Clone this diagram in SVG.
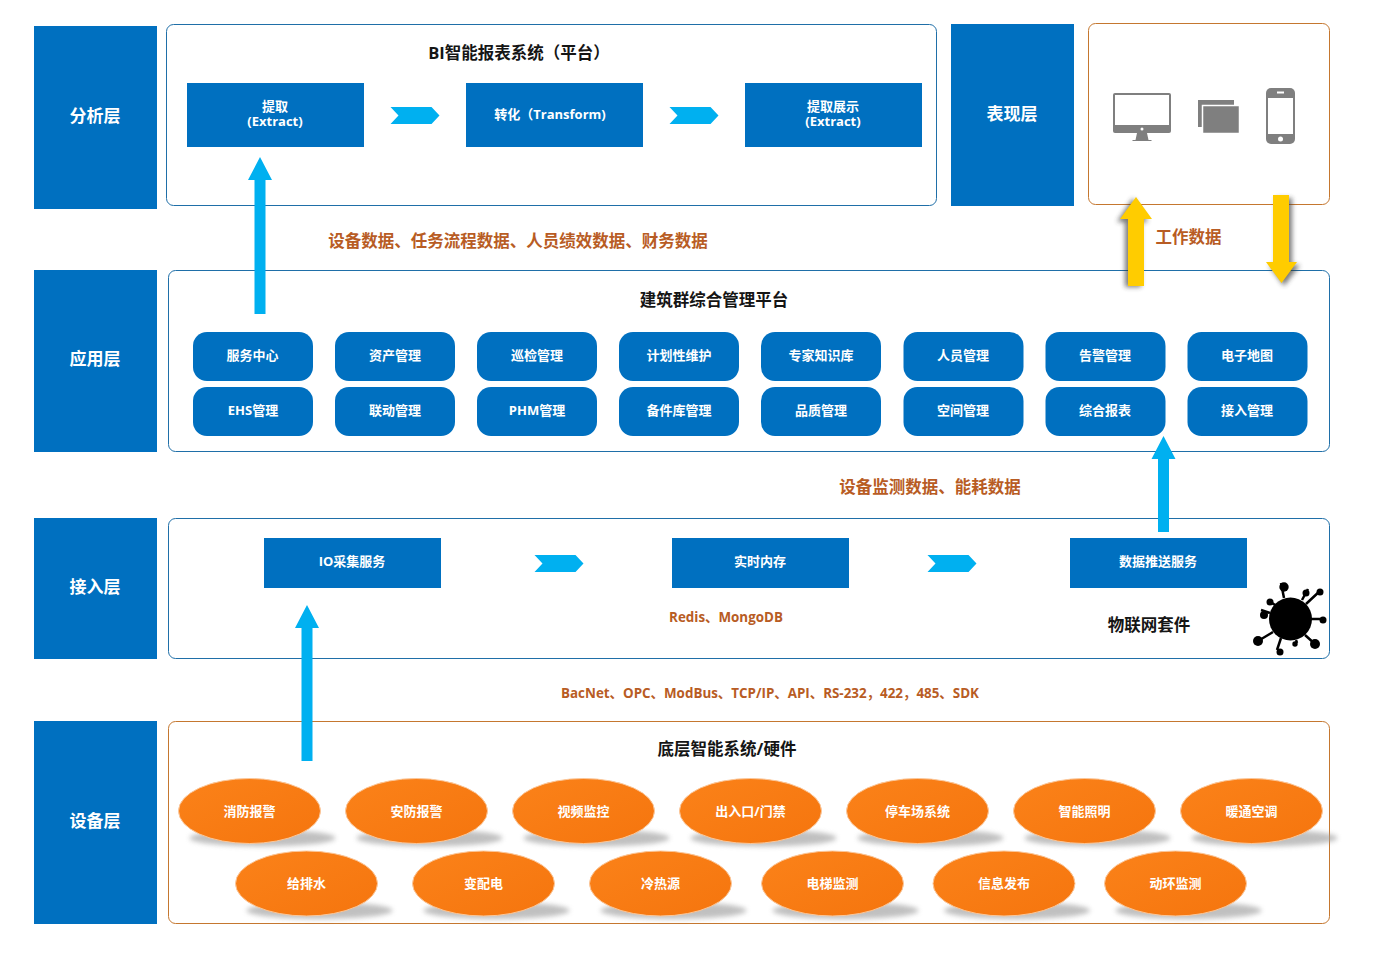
<svg xmlns="http://www.w3.org/2000/svg" width="1374" height="956" viewBox="0 0 1374 956">
<style>
text{font-family:"Open Sans","Noto Sans CJK SC","Noto Sans",sans-serif;font-weight:700;text-anchor:middle}
.layer{fill:#0070c0}
.lt{fill:#fff;font-size:17px}
.panel{fill:#fff;stroke:#1f6fa8;stroke-width:1}
.panelo{fill:#fff;stroke:#c5772f;stroke-width:1}
.box{fill:#0070c0}
.bt{fill:#fff;font-size:13px}
.title{fill:#151515;font-size:16.5px}
.note{fill:#b85c24;font-size:16.5px}
.note2{fill:#b85c24;font-size:13.4px}
.oval{fill:url(#og);stroke:#fbc79a;stroke-width:1}
.shad{fill:#9a9a9a;opacity:.62;filter:url(#b3)}
.blue{fill:#00b0f0}
.yel{fill:#ffcc00}
.ysh{fill:#333;opacity:.65;filter:url(#b3)}
.ic{fill:#7f7f7f}
.vs{stroke:#000;stroke-width:2.5;fill:none}
</style>
<defs>
<filter id="b3" x="-30%" y="-30%" width="160%" height="160%"><feGaussianBlur stdDeviation="2.5"/></filter>
<linearGradient id="og" x1="0" y1="0" x2="1" y2="1"><stop offset="0" stop-color="#fb8219"/><stop offset="1" stop-color="#f5750e"/></linearGradient>
</defs>
<rect width="1374" height="956" fill="#fff"/>
<g id="layer-analysis"><rect class="layer" x="34" y="26" width="123" height="183"/><text class="lt" x="95" y="122">分析层</text></g>
<g id="layer-app"><rect class="layer" x="34" y="270" width="123" height="182"/><text class="lt" x="95" y="365">应用层</text></g>
<g id="layer-access"><rect class="layer" x="34" y="518" width="123" height="141"/><text class="lt" x="95" y="593">接入层</text></g>
<g id="layer-device"><rect class="layer" x="34" y="721" width="123" height="203"/><text class="lt" x="95" y="827">设备层</text></g>
<g id="layer-present"><rect class="layer" x="951" y="24" width="123" height="182"/><text class="lt" x="1012" y="120">表现层</text></g>

<g id="panel-bi"><rect class="panel" x="166.500" y="24.500" width="770" height="181" rx="7"/><text class="title" x="519" y="58.500">BI智能报表系统（平台）</text></g>
<g id="panel-present"><rect class="panelo" x="1088.500" y="23.500" width="241" height="181" rx="7"/>
<path class="ic" d="M1115 93h54a2 2 0 0 1 2 2v36a2 2 0 0 1-2 2h-54a2 2 0 0 1-2-2V95a2 2 0 0 1 2-2z"/><rect x="1115" y="95" width="54" height="30" fill="#fff"/><circle cx="1142" cy="129" r="1.500" fill="#fff"/><path class="ic" d="M1137 133h10l1.500 7h3v1h-19v-1h3z"/>
<rect class="ic" x="1198" y="100" width="36" height="27"/><rect class="ic" x="1202.500" y="105.500" width="37" height="28" stroke="#fff" stroke-width="1.500"/>
<rect class="ic" x="1266" y="88" width="29" height="56" rx="5"/><rect x="1268" y="98" width="25" height="36" fill="#fff"/><rect x="1277" y="91.500" width="7" height="2" fill="#fff"/><circle cx="1280.500" cy="139" r="2.500" fill="#fff"/>
</g>
<g id="panel-platform"><rect class="panel" x="168.500" y="270.500" width="1161" height="181" rx="7"/><text class="title" x="714" y="305.500">建筑群综合管理平台</text></g>
<g id="panel-iot"><rect class="panel" x="168.500" y="518.500" width="1161" height="140" rx="7"/><text class="title" x="1149" y="630.500">物联网套件</text><text class="note2" x="726" y="622">Redis、MongoDB</text>
<circle cx="1290.500" cy="619" r="21.500"/><g class="vs"><path d="M1284 598l-3-15M1302 600l6-11M1306 604l15-14M1310 619h13M1305 635l10 9M1296 640l1 3M1281 638l-4 12M1273 632l-15 9M1270 613l-9-3M1275 605l-7-5"/></g>
<g><circle cx="1284" cy="587" r="4.700"/><circle cx="1306" cy="593" r="3.500"/><circle cx="1320" cy="592" r="3.500"/><circle cx="1323" cy="620" r="3.500"/><circle cx="1315" cy="644" r="5"/><circle cx="1295" cy="644" r="2.700"/><circle cx="1280" cy="652" r="3.500"/><circle cx="1258" cy="641" r="5"/><circle cx="1264" cy="615" r="4"/><circle cx="1270" cy="602" r="3.500"/></g>
</g>
<g id="panel-device"><rect class="panelo" x="168.500" y="721.500" width="1161" height="202" rx="7"/><text class="title" x="727" y="754.500">底层智能系统/硬件</text></g>

<g id="n-extract1"><rect class="box" x="187" y="83" width="177" height="64"/><text class="bt" x="275" y="110.500">提取<tspan x="275" dy="15.500">(Extract)</tspan></text></g>
<g id="n-transform"><rect class="box" x="466" y="83" width="177" height="64"/><text class="bt" x="550" y="119">转化（Transform)</text></g>
<g id="n-extract2"><rect class="box" x="745" y="83" width="177" height="64"/><text class="bt" x="833" y="110.500">提取展示<tspan x="833" dy="15.500">(Extract)</tspan></text></g>

<defs><rect id="pill" width="120" height="49" rx="14" class="box"/></defs>
<g id="a1"><use href="#pill" x="193" y="332"/><text class="bt" x="252.500" y="359.500">服务中心</text></g>
<g id="a2"><use href="#pill" x="335" y="332"/><text class="bt" x="395" y="359.500">资产管理</text></g>
<g id="a3"><use href="#pill" x="477" y="332"/><text class="bt" x="537" y="359.500">巡检管理</text></g>
<g id="a4"><use href="#pill" x="619" y="332"/><text class="bt" x="679" y="359.500">计划性维护</text></g>
<g id="a5"><use href="#pill" x="761" y="332"/><text class="bt" x="821" y="359.500">专家知识库</text></g>
<g id="a6"><use href="#pill" x="903.500" y="332"/><text class="bt" x="963" y="359.500">人员管理</text></g>
<g id="a7"><use href="#pill" x="1045.500" y="332"/><text class="bt" x="1105" y="359.500">告警管理</text></g>
<g id="a8"><use href="#pill" x="1187.500" y="332"/><text class="bt" x="1247" y="359.500">电子地图</text></g>
<g id="b1"><use href="#pill" x="193" y="387"/><text class="bt" x="253" y="414.500">EHS管理</text></g>
<g id="b2"><use href="#pill" x="335" y="387"/><text class="bt" x="395" y="414.500">联动管理</text></g>
<g id="b3n"><use href="#pill" x="477" y="387"/><text class="bt" x="537" y="414.500">PHM管理</text></g>
<g id="b4"><use href="#pill" x="619" y="387"/><text class="bt" x="679" y="414.500">备件库管理</text></g>
<g id="b5"><use href="#pill" x="761" y="387"/><text class="bt" x="821" y="414.500">品质管理</text></g>
<g id="b6"><use href="#pill" x="903.500" y="387"/><text class="bt" x="963" y="414.500">空间管理</text></g>
<g id="b7"><use href="#pill" x="1045.500" y="387"/><text class="bt" x="1105" y="414.500">综合报表</text></g>
<g id="b8"><use href="#pill" x="1187.500" y="387"/><text class="bt" x="1247" y="414.500">接入管理</text></g>

<g id="n-io"><rect class="box" x="264" y="538" width="177" height="50"/><text class="bt" x="352" y="565.500">IO采集服务</text></g>
<g id="n-mem"><rect class="box" x="672" y="538" width="177" height="50"/><text class="bt" x="760" y="565.500">实时内存</text></g>
<g id="n-push"><rect class="box" x="1070" y="538" width="177" height="50"/><text class="bt" x="1158" y="565.500">数据推送服务</text></g>

<defs><g id="ov"><ellipse class="shad" cx="13" cy="27" rx="73" ry="8.500"/><ellipse class="oval" cx="0" cy="0" rx="71" ry="32.500"/></g></defs>
<g id="o1"><use href="#ov" x="249.500" y="811"/><text class="bt" x="249.500" y="815.500">消防报警</text></g>
<g id="o2"><use href="#ov" x="416.500" y="811"/><text class="bt" x="416.500" y="815.500">安防报警</text></g>
<g id="o3"><use href="#ov" x="583.500" y="811"/><text class="bt" x="583.500" y="815.500">视频监控</text></g>
<g id="o4"><use href="#ov" x="750.500" y="811"/><text class="bt" x="750.500" y="815.500">出入口/门禁</text></g>
<g id="o5"><use href="#ov" x="917.500" y="811"/><text class="bt" x="917.500" y="815.500">停车场系统</text></g>
<g id="o6"><use href="#ov" x="1084.500" y="811"/><text class="bt" x="1084.500" y="815.500">智能照明</text></g>
<g id="o7"><use href="#ov" x="1251.500" y="811"/><text class="bt" x="1251.500" y="815.500">暖通空调</text></g>
<g id="o8"><use href="#ov" x="306.500" y="883.500"/><text class="bt" x="306.500" y="887.500">给排水</text></g>
<g id="o9"><use href="#ov" x="483.500" y="883.500"/><text class="bt" x="483.500" y="887.500">变配电</text></g>
<g id="o10"><use href="#ov" x="660.500" y="883.500"/><text class="bt" x="660.500" y="887.500">冷热源</text></g>
<g id="o11"><use href="#ov" x="832.500" y="883.500"/><text class="bt" x="832.500" y="887.500">电梯监测</text></g>
<g id="o12"><use href="#ov" x="1004" y="883.500"/><text class="bt" x="1004" y="887.500">信息发布</text></g>
<g id="o13"><use href="#ov" x="1175.500" y="883.500"/><text class="bt" x="1175.500" y="887.500">动环监测</text></g>

<g id="connectors">
<defs><path id="chev" d="M0 0H41L49 8.500 41 17H0L8 8.500z" class="blue"/></defs>
<use href="#chev" x="390.500" y="107"/><use href="#chev" x="669.500" y="107"/><use href="#chev" x="534.500" y="555"/><use href="#chev" x="927.500" y="555"/>
<path class="blue" d="M260 157l12 23h-6.500V314h-11V180H248z"/>
<path class="blue" d="M307 605l12 23h-6.500V761h-11V628H295z"/>
<path class="blue" d="M1163.500 436l12 23H1169V532h-11V459h-6.500z"/>
<path class="ysh" d="M1136 195l-16 24h8v65h16v-65h7z" transform="translate(-3 3)"/>
<path class="yel" d="M1136 197l16 22h-8v67h-16v-67h-8z"/>
<path class="ysh" d="M1273 195h16v67h8l-16 21-15-21h7z" transform="translate(3 3)"/>
<path class="yel" d="M1273 195h16v67h8l-15.500 21-15.500-21h7z"/>
</g>
<g id="labels">
<text class="note" x="518" y="246.500">设备数据、任务流程数据、人员绩效数据、财务数据</text>
<text class="note" x="1188.500" y="242.500">工作数据</text>
<text class="note" x="930" y="492.500">设备监测数据、能耗数据</text>
<text class="note2" x="770" y="698">BacNet、OPC、ModBus、TCP/IP、API、RS-232，422，485、SDK</text>
</g>
</svg>
